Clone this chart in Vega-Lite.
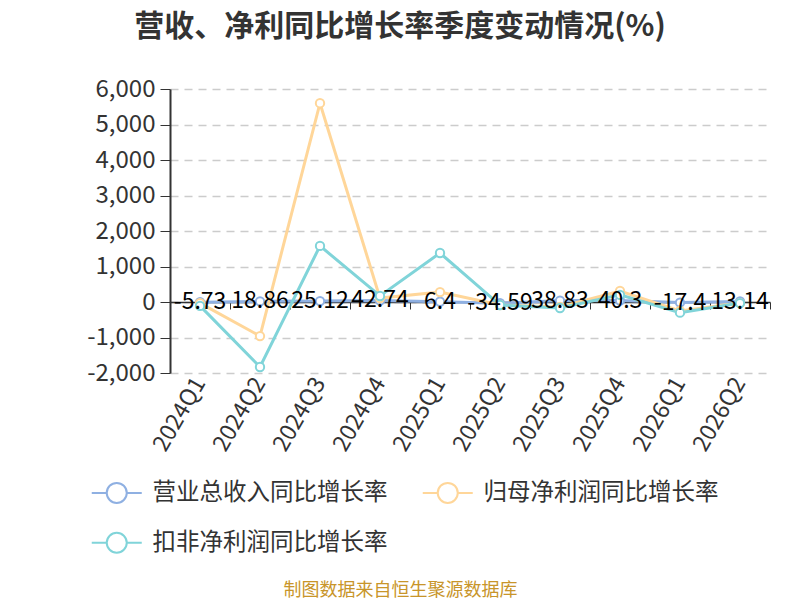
{
  "$schema": "https://vega.github.io/schema/vega-lite/v6.json",
  "width": 600,
  "height": 284,
  "autosize": {"type": "none"},
  "padding": {"left": 170, "top": 89, "right": 30, "bottom": 227},
  "background": "white",
  "config": {"font": "Noto Sans CJK SC", "view": {"stroke": null},
    "locale": {"number": {"decimal": ".", "thousands": ",", "grouping": [3], "currency": ["$", ""], "minus": "-"}}},
  "title": {"text": "营收、净利同比增长率季度变动情况(%)", "fontSize": 30, "fontWeight": "bold", "color": "#333333", "anchor": "middle", "frame": "group", "offset": 35, "dx": -70, "font": "Noto Sans CJK SC"},
  "data": {"values": [
    {"quarter": "2024Q1", "series": "营业总收入同比增长率", "value": -5.73},
    {"quarter": "2024Q2", "series": "营业总收入同比增长率", "value": 18.86},
    {"quarter": "2024Q3", "series": "营业总收入同比增长率", "value": 25.12},
    {"quarter": "2024Q4", "series": "营业总收入同比增长率", "value": 42.74},
    {"quarter": "2025Q1", "series": "营业总收入同比增长率", "value": 6.4},
    {"quarter": "2025Q2", "series": "营业总收入同比增长率", "value": -34.59},
    {"quarter": "2025Q3", "series": "营业总收入同比增长率", "value": 38.83},
    {"quarter": "2025Q4", "series": "营业总收入同比增长率", "value": 40.3},
    {"quarter": "2026Q1", "series": "营业总收入同比增长率", "value": -17.4},
    {"quarter": "2026Q2", "series": "营业总收入同比增长率", "value": 13.14},
    {"quarter": "2024Q1", "series": "归母净利润同比增长率", "value": -30},
    {"quarter": "2024Q2", "series": "归母净利润同比增长率", "value": -960},
    {"quarter": "2024Q3", "series": "归母净利润同比增长率", "value": 5600},
    {"quarter": "2024Q4", "series": "归母净利润同比增长率", "value": 110},
    {"quarter": "2025Q1", "series": "归母净利润同比增长率", "value": 280},
    {"quarter": "2025Q2", "series": "归母净利润同比增长率", "value": -85},
    {"quarter": "2025Q3", "series": "归母净利润同比增长率", "value": -140},
    {"quarter": "2025Q4", "series": "归母净利润同比增长率", "value": 310},
    {"quarter": "2026Q1", "series": "归母净利润同比增长率", "value": -250},
    {"quarter": "2026Q2", "series": "归母净利润同比增长率", "value": -30},
    {"quarter": "2024Q1", "series": "扣非净利润同比增长率", "value": -110},
    {"quarter": "2024Q2", "series": "扣非净利润同比增长率", "value": -1830},
    {"quarter": "2024Q3", "series": "扣非净利润同比增长率", "value": 1580},
    {"quarter": "2024Q4", "series": "扣非净利润同比增长率", "value": 170},
    {"quarter": "2025Q1", "series": "扣非净利润同比增长率", "value": 1380},
    {"quarter": "2025Q2", "series": "扣非净利润同比增长率", "value": -85},
    {"quarter": "2025Q3", "series": "扣非净利润同比增长率", "value": -170},
    {"quarter": "2025Q4", "series": "扣非净利润同比增长率", "value": 200},
    {"quarter": "2026Q1", "series": "扣非净利润同比增长率", "value": -300},
    {"quarter": "2026Q2", "series": "扣非净利润同比增长率", "value": -30}
  ]},
  "encoding": {
    "y": {
      "field": "value", "type": "quantitative",
      "scale": {"domain": [-2000, 6000], "nice": false, "zero": false},
      "axis": {"values": [-2000, -1000, 0, 1000, 2000, 3000, 4000, 5000, 6000], "format": ",d", "title": null,
        "labelFontSize": 24, "labelColor": "#333333", "labelPadding": 5,
        "domain": true, "domainColor": "#333333", "domainWidth": 2,
        "ticks": true, "tickColor": "#333333", "tickSize": 10,
        "grid": true, "gridColor": "#cccccc", "gridDash": [8, 6], "gridWidth": 1.5}
    }
  },
  "layer": [
    {
      "mark": {"type": "line", "strokeWidth": 3, "point": {"filled": false, "fill": "white", "size": 70, "strokeWidth": 2}},
      "encoding": {
        "x": {"field": "quarter", "type": "ordinal", "sort": null, "bandPosition": 0.5,
          "scale": {"type": "band", "paddingInner": 0, "paddingOuter": 0},
          "axis": {"orient": "bottom", "offset": -71, "labels": false, "title": null, "domain": true, "domainColor": "#333333", "domainWidth": 1.5,
            "ticks": true, "tickBand": "extent", "tickColor": "#333333", "tickSize": 7, "grid": false}},
        "color": {"field": "series", "type": "nominal",
          "scale": {"domain": ["营业总收入同比增长率", "归母净利润同比增长率", "扣非净利润同比增长率"], "range": ["#8fb0e2", "#ffd699", "#80d4d9"]},
          "legend": {"orient": "none", "legendX": -65, "legendY": 392, "direction": "horizontal", "columns": 2, "title": null, "padding": 0,
            "labelFontSize": 23.5, "labelColor": "#333333", "labelLimit": 400, "labelOffset": 24,
            "symbolType": "M-2.5,0L-1,0M1,0L2.5,0M1,0A1,1,0,1,1,-1,0A1,1,0,1,1,1,0",
            "symbolSize": 400, "symbolStrokeWidth": 2, "symbolFillColor": "white",
            "columnPadding": 30, "rowPadding": 21}
        }
      }
    },
    {
      "transform": [{"filter": "datum.series === '营业总收入同比增长率'"}],
      "mark": {"type": "text", "fontSize": 23, "color": "#000000", "baseline": "middle", "dy": 0},
      "encoding": {
        "x": {"field": "quarter", "type": "ordinal", "sort": null, "bandPosition": 0.5,
          "scale": {"type": "band", "paddingInner": 0, "paddingOuter": 0},
          "axis": {"orient": "bottom", "labelAngle": -60, "labelFontSize": 23, "labelColor": "#333333", "labelPadding": 6,
            "domain": false, "ticks": false, "grid": false,
            "title": "制图数据来自恒生聚源数据库", "titleFontSize": 18, "titleFontWeight": "normal", "titleColor": "#c8952a",
            "titleX": 230, "titleY": 217, "titleAlign": "center", "titleAnchor": null, "titleBaseline": "middle"}},
        "text": {"field": "value", "type": "quantitative", "format": "~r"}
      }
    }
  ],
  "resolve": {"axis": {"x": "independent"}}
}
